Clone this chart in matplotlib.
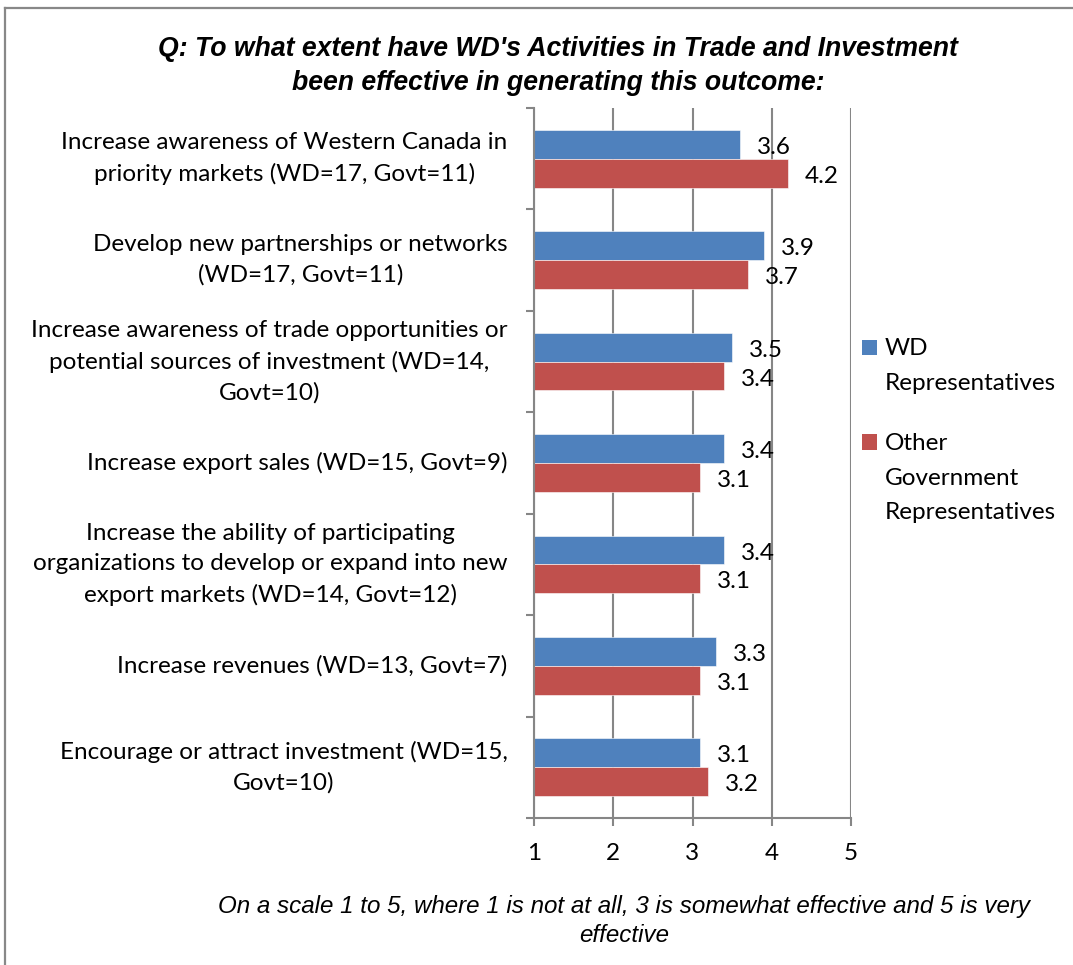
import matplotlib
matplotlib.use("Agg")
import matplotlib.pyplot as plt
import numpy as np
from matplotlib.lines import Line2D
from matplotlib.patches import Rectangle

categories = [
    "Increase awareness of Western Canada in\npriority markets (WD=17, Govt=11)",
    "Develop new partnerships or networks\n(WD=17, Govt=11)",
    "Increase awareness of trade opportunities or\npotential sources of investment (WD=14,\nGovt=10)",
    "Increase export sales (WD=15, Govt=9)",
    "Increase the ability of participating\norganizations to develop or expand into new\nexport markets (WD=14, Govt=12)",
    "Increase revenues (WD=13, Govt=7)",
    "Encourage or attract investment (WD=15,\nGovt=10)",
]
wd_values = [3.6, 3.9, 3.5, 3.4, 3.4, 3.3, 3.1]
govt_values = [4.2, 3.7, 3.4, 3.1, 3.1, 3.1, 3.2]
series_names = ["WD\nRepresentatives", "Other\nGovernment\nRepresentatives"]
x_ticks = [1, 2, 3, 4, 5]

title = "Q: To what extent have WD's Activities in Trade and Investment\nbeen effective in generating this outcome:"
footnote = "On a scale 1 to 5, where 1 is not at all, 3 is somewhat effective and 5 is very\neffective"

blue = "#4F81BD"
red = "#C0504D"
grid_c = "#868686"
font = "Lato"
fs = 17.5

W, H = 1073, 965
fig = plt.figure(figsize=(W/100, H/100), dpi=100)
ax = fig.add_axes([534/W, 1-818/H, (851-534)/W, (818-108)/H])

n = len(categories)
ypos = np.arange(n)[::-1].astype(float)
h = 0.285
base = 1.0
b1 = ax.barh(ypos + h/2, np.array(wd_values) - base, left=base, height=h, color=blue,
             edgecolor="white", linewidth=0.4)
b2 = ax.barh(ypos - h/2, np.array(govt_values) - base, left=base, height=h, color=red,
             edgecolor="white", linewidth=0.4)

for bars, vals in ((b1, wd_values), (b2, govt_values)):
    for rect, v in zip(bars, vals):
        ax.annotate(f"{v:.1f}", xy=(v, rect.get_y() + rect.get_height()/2 - 0.03),
                    xytext=(12, 0), textcoords="offset points", ha="left", va="center",
                    fontsize=fs, family=font, color="black")

ax.set_xlim(1, 5)
ax.set_ylim(-0.5, n - 0.5)
ax.set_xticks(x_ticks)
ax.set_xticklabels([str(t) for t in x_ticks], fontsize=fs, family=font)
ax.xaxis.grid(True, color=grid_c, linewidth=1.5)
ax.set_axisbelow(True)

ax.set_yticks(ypos)
ax.set_yticklabels(categories, fontsize=fs, family=font, multialignment="center",
                   linespacing=1.52)
for t in ax.get_yticklabels():
    t.set_va("center")
ax.tick_params(axis="y", which="major", length=0, pad=19)
ax.set_yticks(np.arange(n + 1) - 0.5, minor=True)
ax.tick_params(axis="y", which="minor", length=6, color=grid_c, width=1.5)
ax.tick_params(axis="x", length=6, color=grid_c, width=1.5, pad=12)

for s in ("top", "right"):
    ax.spines[s].set_visible(False)
for s in ("left", "bottom"):
    ax.spines[s].set_color(grid_c)
    ax.spines[s].set_linewidth(1.5)

# legend (manual, handle aligned with first text line)
leg_items = [(series_names[0], blue, 347), (series_names[1], red, 442)]
for label, col, yc in leg_items:
    fig.add_artist(Rectangle((862/W, 1-(yc+7.5)/H), 15/W, 15/H, transform=fig.transFigure,
                             facecolor=col, edgecolor="none"))
    fig.text(885/W, 1-(yc-9)/H, label, ha="left", va="top", fontsize=fs, family=font,
             linespacing=1.8)

fig.text(558/W, 1-66/H, title, ha="center", va="center", fontsize=19.2,
         family="Liberation Sans", style="italic", weight="bold", linespacing=1.35)
fig.text(624/W, 1-921/H, footnote, ha="center", va="center", fontsize=17.4,
         family="Liberation Sans", style="italic", linespacing=1.33)

fig.add_artist(Line2D([5/W, 1], [1-8/H, 1-8/H], transform=fig.transFigure,
                      color="#888888", linewidth=1.6))
fig.add_artist(Line2D([5/W, 5/W], [0, 1-8/H], transform=fig.transFigure,
                      color="#888888", linewidth=1.6))

fig.savefig("out.png", dpi=100)
